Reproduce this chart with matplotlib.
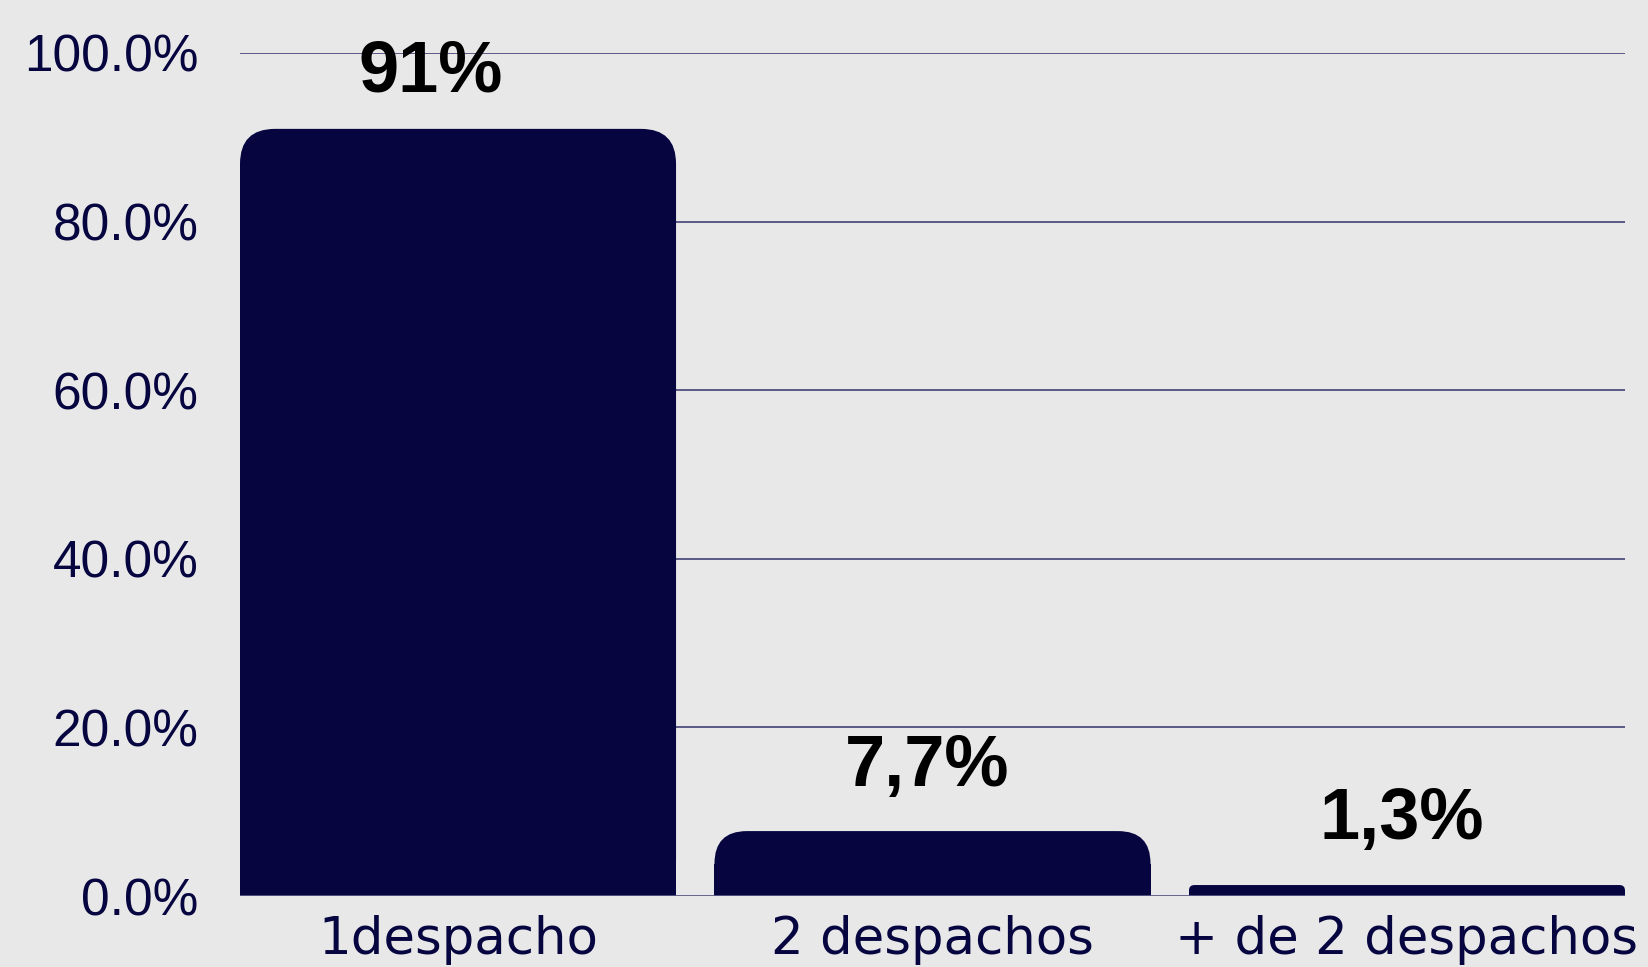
import matplotlib.pyplot as plt
from matplotlib.patches import FancyBboxPatch, Rectangle

categorias = ["1despacho", "2 despachos", "+ de 2 despachos"]
porcentajes = [91.0, 7.7, 1.3]
etiquetas = ["91%", "7,7%", "1,3%"]
yticks = [0, 20, 40, 60, 80, 100]

fondo = "#e8e8e8"
azul = "#060540"
rejilla = "#5a5a86"

fig = plt.figure(figsize=(16.49, 9.67), dpi=100, facecolor=fondo)
ax = fig.add_axes([240 / 1649, 1 - 896 / 967, 1385 / 1649, 843 / 967])
ax.set_facecolor(fondo)

ancho = 0.919
ax.set_xlim(-ancho / 2, len(categorias) - 1 + ancho / 2)
ax.set_ylim(0, 100)

for y in yticks[1:]:
    ax.axhline(y, color=rejilla, lw=1.4, zorder=1)
ax.axhline(0, color=rejilla, lw=2.0, zorder=4)

# esquinas redondeadas: radio ~35 px
px_x = 1385 / (len(categorias) - 1 + ancho)
px_y = 843 / 100
r_x = 35 / px_x
aspecto = px_x / px_y
for i, v in enumerate(porcentajes):
    x0 = i - ancho / 2
    rx = min(r_x, v / aspecto / 2)
    ry = rx * aspecto
    ax.add_patch(FancyBboxPatch((x0, 0), ancho, v,
                                boxstyle=f"round,pad=0,rounding_size={rx}",
                                mutation_aspect=aspecto, fc=azul, ec="none", zorder=3))
    ax.add_patch(Rectangle((x0, 0), ancho, v - ry, fc=azul, ec="none", zorder=3))
    ax.annotate(etiquetas[i], (i, v), xytext=(-20 if i == 0 else -4, 16 if i == 0 else 22),
                textcoords="offset points", ha="center", va="bottom",
                fontsize=52, fontweight="bold", family="Liberation Sans",
                color="black", zorder=5)

ax.set_yticks(yticks)
ax.set_yticklabels([f"{t:.1f}%" for t in yticks], fontsize=37,
                   family="Liberation Sans", color=azul)
ax.set_xticks(range(len(categorias)))
ax.set_xticklabels(categorias, fontsize=37, family="DejaVu Sans", color=azul)
ax.tick_params(axis="y", length=0, pad=30)
ax.tick_params(axis="x", length=0, pad=14)
for s in ax.spines.values():
    s.set_visible(False)

fig.savefig("out.png", dpi=100, facecolor=fondo)
